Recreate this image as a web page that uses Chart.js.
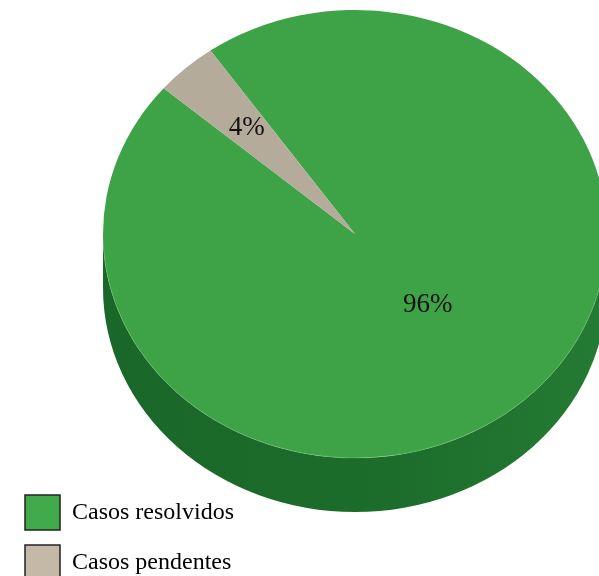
<!DOCTYPE html>
<html>
<head>
<meta charset="utf-8">
<script src="https://cdn.jsdelivr.net/npm/chart.js@4/dist/chart.umd.min.js"></script>
<style>
html, body { margin: 0; padding: 0; background: #fff; overflow: hidden; }
#wrap { position: relative; width: 599px; height: 595px; }
</style>
</head>
<body>
<div id="wrap"><canvas id="casosChart"></canvas></div>
<script>
// dados
const categorias = ['Casos resolvidos', 'Casos pendentes'];
const percentuais = [96, 4];

// estilo
const coresTopo = ['#3ea346', '#b5ab9b'];
const coresLegenda = ['#41ab4b', '#c4b8a6'];
const raioRotulo = [0.43, 0.64];

// elipse do "3D"
const CX = 355, CY = 234, RX = 252, RY = 224, PROF = 54;

const pie3d = {
    id: 'pie3d',
    beforeDatasetsDraw(chart) {
        const ctx = chart.ctx;
        const arcs = chart.getDatasetMeta(0).data;
        const a = arcs[0];

        // lateral (só a metade da frente aparece)
        ctx.save();
        const grad = ctx.createLinearGradient(CX - RX, 0, CX + RX, 0);
        grad.addColorStop(0, '#1a6829');
        grad.addColorStop(0.55, '#1c6c2b');
        grad.addColorStop(1, '#247b33');
        ctx.fillStyle = grad;
        arcs.forEach(arc => {
            for (let k = -1; k <= 1; k++) {
                const s = Math.max(arc.startAngle + k * 2 * Math.PI, 0);
                const e = Math.min(arc.endAngle + k * 2 * Math.PI, Math.PI);
                if (e <= s) continue;
                ctx.beginPath();
                ctx.ellipse(CX, CY, RX, RY, 0, s, e);
                ctx.ellipse(CX, CY + PROF, RX, RY, 0, e, s, true);
                ctx.closePath();
                ctx.fill();
            }
        });
        ctx.restore();

        // topo: achata o círculo do Chart.js numa elipse
        ctx.save();
        ctx.translate(CX, CY);
        ctx.scale(RX / a.outerRadius, RY / a.outerRadius);
        ctx.translate(-a.x, -a.y);
    },
    afterDatasetsDraw(chart) {
        const ctx = chart.ctx;
        ctx.restore();

        // brilho fino na borda da frente
        ctx.save();
        ctx.strokeStyle = 'rgba(120,200,120,0.45)';
        ctx.lineWidth = 1;
        ctx.beginPath();
        ctx.ellipse(CX, CY, RX, RY, 0, 0.05, Math.PI - 0.05);
        ctx.stroke();
        ctx.restore();

        // rótulos de porcentagem
        const arcs = chart.getDatasetMeta(0).data;
        ctx.save();
        ctx.font = '27px "Liberation Serif", serif';
        ctx.fillStyle = '#111';
        ctx.textAlign = 'center';
        ctx.textBaseline = 'middle';
        arcs.forEach((arc, i) => {
            const m = (arc.startAngle + arc.endAngle) / 2;
            const x = CX + RX * raioRotulo[i] * Math.cos(m);
            const y = CY + RY * raioRotulo[i] * Math.sin(m);
            ctx.fillText(percentuais[i] + '%', x, y);
        });
        ctx.restore();
    }
};

Chart.defaults.font.family = '"Liberation Serif", serif';
Chart.defaults.color = '#111';

new Chart(document.getElementById('casosChart'), {
    type: 'pie',
    data: {
        labels: categorias,
        datasets: [{
            data: percentuais,
            backgroundColor: coresTopo,
            borderWidth: 0,
            clip: false
        }]
    },
    options: {
        responsive: true,
        maintainAspectRatio: false,
        animation: false,
        events: [],
        rotation: -35,
        layout: { padding: { left: 10 } },
        plugins: {
            tooltip: { enabled: false },
            legend: {
                position: 'left',
                align: 'end',
                labels: {
                    boxWidth: 35,
                    boxHeight: 35,
                    padding: 15,
                    font: { size: 24 },
                    generateLabels: (chart) => categorias.map((c, i) => ({
                        text: c,
                        fillStyle: coresLegenda[i],
                        strokeStyle: '#222',
                        lineWidth: 1.5,
                        index: i
                    }))
                }
            }
        }
    },
    plugins: [pie3d]
});
</script>
</body>
</html>
